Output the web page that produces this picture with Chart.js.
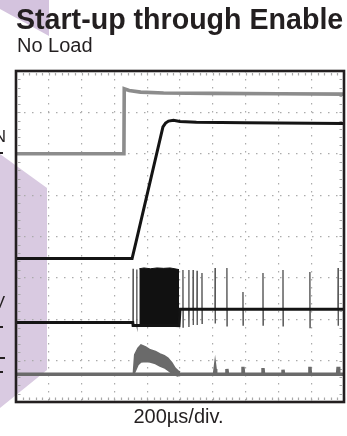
<!DOCTYPE html>
<html>
<head>
<meta charset="utf-8">
<script src="https://cdn.jsdelivr.net/npm/chart.js@4.4.0/dist/chart.umd.min.js"></script>
<style>
  html, body { margin: 0; padding: 0; background: #fff; }
  body { width: 347px; height: 436px; position: relative; overflow: hidden;
         font-family: "Liberation Sans", Arial, Helvetica, sans-serif; color: #231f20; }
  #scope { position: absolute; left: 0; top: 0; }
  .txt { position: absolute; line-height: 1; white-space: nowrap; }
  .mark { position: absolute; background: #231f20; height: 2px; }
</style>
</head>
<body>
<canvas id="scope" width="347" height="436"></canvas>
<div class="txt" style="left:16px; top:5px; font-size:28.6px; font-weight:bold;">Start-up through Enable</div>
<div class="txt" style="left:17px; top:35px; font-size:20px;">No Load</div>
<div class="txt" style="right:341px; top:128px; font-size:17px;">EN</div>
<div class="txt" style="right:342px; top:294px; font-size:17px;">2V</div>
<div class="mark" style="left:0; top:152px; width:3px;"></div>
<div class="mark" style="left:0; top:326px; width:3px;"></div>
<div class="mark" style="left:0; top:357px; width:5px;"></div>
<div class="mark" style="left:0; top:371px; width:3px;"></div>
<div class="txt" style="left:0; width:357px; text-align:center; top:406px; font-size:20px;">200µs/div.</div>
<script>
// scope screen: 10 x 8 divisions, values in divisions
const X_DIVS = 10;
const Y_DIVS = 8;

// EN (gray)
const enX = [0, 3.29, 3.30, 3.45, 3.8, 4.5, 6, 8, 10];
const enY = [6.0, 6.0, 7.57, 7.53, 7.49, 7.47, 7.46, 7.45, 7.44];

// VOUT (black)
const voutX = [0, 3.54, 3.66, 4.48, 4.56, 4.65, 4.8, 5.0, 5.5, 7, 10];
const voutY = [3.47, 3.47, 3.87, 6.65, 6.74, 6.79, 6.81, 6.78, 6.76, 6.75, 6.73];

// switch node baseline (black)
const swX = [0, 3.56, 3.57, 4.97, 5.0, 10];
const swY = [1.92, 1.92, 1.85, 1.85, 2.24, 2.24];

// dense switching burst envelope
const burstX = [3.76, 3.9, 4.1, 4.3, 4.5, 4.7, 4.97];
const burstTop = [3.22, 3.24, 3.22, 3.24, 3.23, 3.24, 3.2];
const burstBottom = [1.84, 1.83, 1.83, 1.84, 1.83, 1.83, 1.82];

// isolated switching pulses
const spikeX = [3.57, 3.68, 5.09, 5.27, 5.40, 5.52, 5.67, 6.07, 6.43, 6.92, 7.53, 8.14, 8.96, 9.82];
const spikeTop = [3.22, 3.2, 3.19, 3.19, 3.19, 3.17, 3.12, 3.24, 3.24, 2.66, 3.12, 3.19, 3.14, 3.24];
const spikeBottom = [1.85, 1.85, 1.81, 1.81, 1.86, 1.86, 1.9, 1.9, 1.84, 1.86, 1.86, 1.84, 1.8, 1.84];

// inductor current (gray)
const ilBase = 0.67;
const ilX = [3.58, 3.62, 3.72, 3.81, 3.95, 4.09, 4.25, 4.39, 4.52, 4.63, 4.75, 4.85, 4.93, 5.0];
const ilUpper = [0.7, 1.14, 1.3, 1.38, 1.33, 1.26, 1.22, 1.16, 1.12, 1.06, 0.95, 0.82, 0.76, 0.72];
const ilLower = [0.66, 0.72, 0.9, 0.97, 0.98, 0.97, 0.93, 0.87, 0.83, 0.77, 0.7, 0.65, 0.63, 0.65];
const ilBumpX = [6.07, 6.43, 6.92, 7.53, 8.14, 8.96, 9.82];
const ilBumpTop = [0.8, 0.8, 0.85, 0.82, 0.78, 0.85, 0.85];

const pts = (xs, ys) => xs.map((x, i) => ({ x, y: ys[i] }));

// pulses drawn as up/down strokes from the local baseline
function pulsePoints(xs, tops, bottoms, baseAt) {
  const out = [];
  xs.forEach((x, i) => {
    const b = baseAt(x);
    out.push({ x: x - 0.004, y: b }, { x, y: tops[i] }, { x: x + 0.004, y: bottoms[i] }, { x: x + 0.008, y: b }, { x: x + 0.01, y: NaN });
  });
  return out;
}

function ilPoints() {
  const out = [{ x: 0, y: ilBase }, { x: 3.58, y: ilBase }, { x: 5.0, y: ilBase }];
  ilBumpX.forEach((x, i) => {
    out.push({ x: x - 0.02, y: ilBase }, { x, y: ilBumpTop[i] }, { x: x + 0.02, y: ilBase });
  });
  out.push({ x: 10, y: ilBase });
  return out;
}

const line = (data, color, width, extra) => Object.assign({
  data, borderColor: color, borderWidth: width, pointRadius: 0,
  tension: 0, fill: false, spanGaps: false
}, extra || {});

// page decoration behind the scope (datasheet side band)
const sideBand = {
  id: 'sideBand',
  beforeDraw(chart) {
    const ctx = chart.ctx;
    ctx.save();
    ctx.fillStyle = '#d4c3de';
    ctx.beginPath();
    ctx.moveTo(0, 0); ctx.lineTo(49, 0); ctx.lineTo(49, 36); ctx.lineTo(0, 9);
    ctx.closePath();
    ctx.fill();
    ctx.fillStyle = '#d9cae1';
    ctx.beginPath();
    ctx.moveTo(0, 154); ctx.lineTo(47, 188); ctx.lineTo(47, 370); ctx.lineTo(0, 408);
    ctx.closePath();
    ctx.fill();
    ctx.restore();
  }
};

// frame and minor ticks of the graticule
const graticule = {
  id: 'graticule',
  beforeDatasetsDraw(chart) {
    const { ctx, chartArea: a, scales: { x, y } } = chart;
    ctx.save();
    ctx.strokeStyle = '#a8a8a8';
    ctx.lineWidth = 1.2;
    ctx.beginPath();
    for (let v = 0; v <= X_DIVS + 1e-6; v += 0.2) {
      const px = Math.round(x.getPixelForValue(v)) + 0.5;
      ctx.moveTo(px, a.top + 2); ctx.lineTo(px, a.top + 4.5);
      ctx.moveTo(px, a.bottom - 2); ctx.lineTo(px, a.bottom - 4.5);
    }
    for (let v = 0; v <= Y_DIVS + 1e-6; v += 0.2) {
      const py = Math.round(y.getPixelForValue(v)) + 0.5;
      ctx.moveTo(a.left + 2, py); ctx.lineTo(a.left + 4.5, py);
      ctx.moveTo(a.right - 2, py); ctx.lineTo(a.right - 4.5, py);
    }
    ctx.stroke();
    ctx.restore();
  },
  afterDatasetsDraw(chart) {
    const { ctx, chartArea: a } = chart;
    ctx.save();
    ctx.strokeStyle = '#231f20';
    ctx.lineWidth = 2.6;
    ctx.strokeRect(a.left, a.top, a.right - a.left, a.bottom - a.top);
    ctx.restore();
  }
};

const axis = (max) => ({
  type: 'linear', min: 0, max,
  ticks: { display: false, stepSize: 1 },
  grid: { color: '#ababab', lineWidth: 1.2, drawTicks: false },
  border: { display: false, dash: [1.5, 6.5] }
});

new Chart(document.getElementById('scope'), {
  type: 'line',
  data: {
    datasets: [
      line(pts(enX, enY), '#8c8c8c', 3.6),
      line(pts(voutX, voutY), '#141414', 3),
      line(pts(swX, swY), '#141414', 3),
      line(pulsePoints(spikeX, spikeTop, spikeBottom, (x) => (x < 4 ? 1.88 : 2.24)), '#5a5a5a', 1.4),
      line(pts(burstX, burstTop), '#111', 1),
      line(pts(burstX, burstBottom), '#111', 1, { fill: { target: 4 }, backgroundColor: '#111' }),
      line(ilPoints(), '#6a6a6a', 3.4),
      line(pts(ilX, ilUpper), '#6a6a6a', 1.6),
      line(pts(ilX, ilLower), '#6a6a6a', 1.6, { fill: { target: 7 }, backgroundColor: '#6a6a6a' })
    ]
  },
  options: {
    responsive: false,
    devicePixelRatio: 1,
    animation: false,
    parsing: false,
    layout: { autoPadding: false, padding: { left: 16, top: 71, right: 3, bottom: 34 } },
    plugins: { legend: { display: false }, tooltip: { enabled: false } },
    scales: { x: axis(X_DIVS), y: axis(Y_DIVS) }
  },
  plugins: [sideBand, graticule]
});
</script>
</body>
</html>
